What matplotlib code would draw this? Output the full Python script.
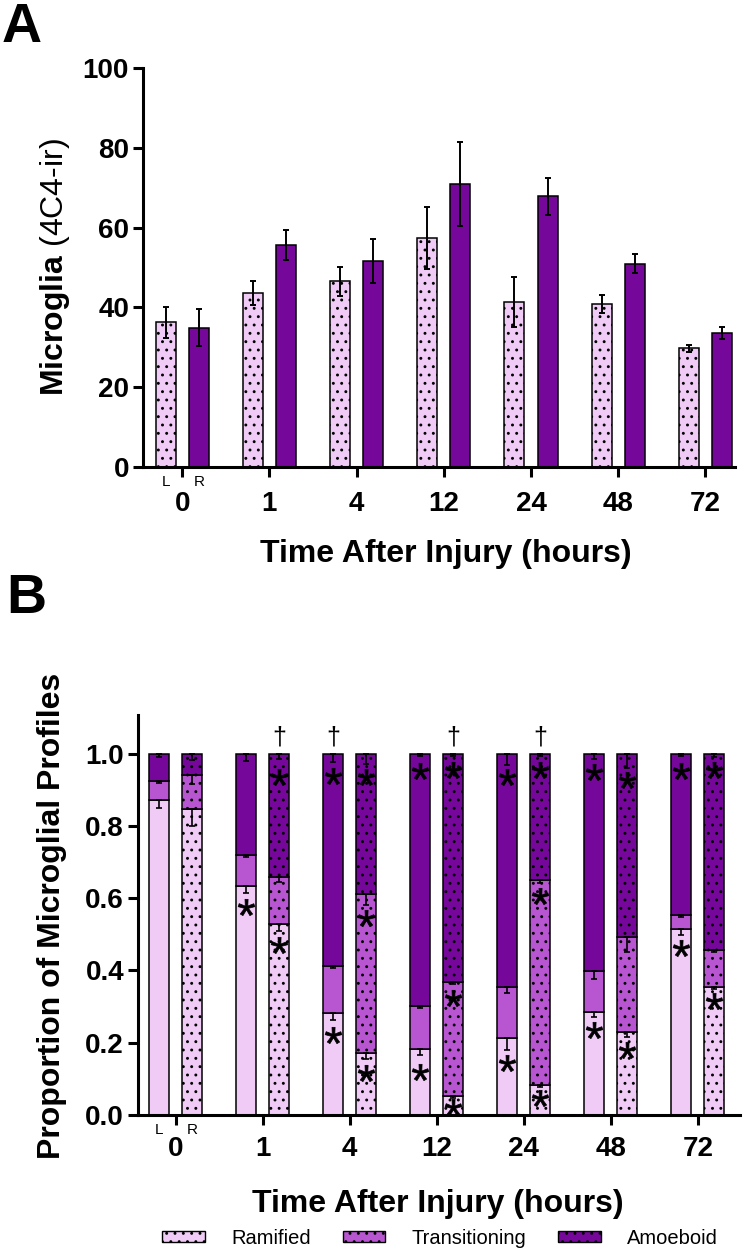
import matplotlib
matplotlib.use('Agg')
import matplotlib.pyplot as plt
from matplotlib.patches import Patch
import numpy as np

plt.rcParams['font.family'] = ['Liberation Sans', 'DejaVu Sans']
plt.rcParams['hatch.linewidth'] = 0.9
plt.rcParams['mathtext.fontset'] = 'custom'
plt.rcParams['mathtext.rm'] = 'Liberation Sans'
plt.rcParams['mathtext.bf'] = 'Liberation Sans:bold'

# ---------------- data ----------------
time_labels = ['0', '1', '4', '12', '24', '48', '72']

# Panel A: microglia counts (left = dotted light, right = solid dark)
a_left_mean = [36.3, 43.7, 46.5, 57.4, 41.4, 40.9, 29.7]
a_left_err = [3.9, 3.0, 3.7, 7.8, 6.2, 2.3, 1.0]
a_right_mean = [34.9, 55.7, 51.7, 70.9, 67.8, 51.0, 33.6]
a_right_err = [4.6, 3.8, 5.5, 10.5, 4.7, 2.5, 1.4]

# Panel B: proportions (L = solid, R = dotted)
b_ram_L = [0.871, 0.633, 0.281, 0.184, 0.212, 0.286, 0.516]
b_trans_L = [0.054, 0.086, 0.131, 0.118, 0.141, 0.113, 0.037]
b_ram_R = [0.846, 0.528, 0.171, 0.053, 0.083, 0.230, 0.355]
b_trans_R = [0.094, 0.131, 0.440, 0.316, 0.567, 0.263, 0.101]
b_amo_L = [1 - r - t for r, t in zip(b_ram_L, b_trans_L)]
b_amo_R = [1 - r - t for r, t in zip(b_ram_R, b_trans_R)]

b_ram_L_err = [0.020, 0.018, 0.018, 0.018, 0.032, 0.014, 0.018]
b_trans_L_err = [0.007, 0.006, 0.006, 0.006, 0.015, 0.024, 0.006]
b_amo_L_err = [0.009, 0.021, 0.023, 0.007, 0.032, 0.014, 0.007]
b_ram_R_err = [0.046, 0.018, 0.017, 0.006, 0.006, 0.014, 0.007]
b_trans_R_err = [0.023, 0.014, 0.030, 0.006, 0.007, 0.041, 0.006]
b_amo_R_err = [0.018, 0.014, 0.028, 0.006, 0.007, 0.041, 0.009]

# significance marks: (group index, side, y)
star_marks = [(1, 'L', 0.575), (2, 'L', 0.221), (2, 'L', 0.938), (3, 'L', 0.120),
              (3, 'L', 0.952), (4, 'L', 0.143), (4, 'L', 0.936), (5, 'L', 0.235),
              (5, 'L', 0.950), (6, 'L', 0.461), (6, 'L', 0.952),
              (1, 'R', 0.470), (1, 'R', 0.936), (2, 'R', 0.116), (2, 'R', 0.545),
              (2, 'R', 0.935), (3, 'R', 0.023), (3, 'R', 0.323), (3, 'R', 0.954),
              (4, 'R', 0.047), (4, 'R', 0.606), (4, 'R', 0.954), (5, 'R', 0.180),
              (5, 'R', 0.927), (6, 'R', 0.315), (6, 'R', 0.954)]
dagger_marks = [(1, 'R'), (2, 'L'), (3, 'R'), (4, 'R')]
dagger_y = 1.045

legend_labels = ['Ramified', 'Transitioning', 'Amoeboid']

# ---------------- style ----------------
c_light = '#EFCBF6'
c_mid = '#B856D2'
c_dark = '#75079A'
bar_w = 0.23
off = 0.19
spine_lw = 2.2
tick_fs = 20
label_fs = 23

fig = plt.figure(figsize=(7.5, 12.54), dpi=100)
W, H = 750, 1254


def ax_rect(l, r, top, bottom):
    return [l / W, 1 - bottom / H, (r - l) / W, (bottom - top) / H]


def style_axes(ax, xpad):
    for s in ['top', 'right']:
        ax.spines[s].set_visible(False)
    for s in ['left', 'bottom']:
        ax.spines[s].set_linewidth(spine_lw)
    ax.tick_params(axis='both', length=7, width=spine_lw, labelsize=tick_fs)
    ax.tick_params(axis='y', pad=3)
    ax.tick_params(axis='x', pad=xpad)
    for lab in ax.get_xticklabels() + ax.get_yticklabels():
        lab.set_fontweight('bold')


x = np.arange(len(time_labels))

# ---------------- Panel A ----------------
axA = fig.add_axes(ax_rect(143, 735, 68, 467))
axA.bar(x - off, a_left_mean, bar_w, color=c_light, edgecolor='k', lw=1.1, hatch='..', zorder=2)
axA.bar(x + off, a_right_mean, bar_w, color=c_dark, edgecolor='k', lw=1.1, zorder=2)
axA.errorbar(x - off, a_left_mean, yerr=a_left_err, fmt='none', ecolor='k', elinewidth=1.4,
             capsize=2.2, capthick=1.4, zorder=3)
axA.errorbar(x + off, a_right_mean, yerr=a_right_err, fmt='none', ecolor='k', elinewidth=1.4,
             capsize=2.2, capthick=1.4, zorder=3)
axA.set_xlim(-0.45, 6.34)
axA.set_ylim(0, 100)
axA.set_yticks([0, 20, 40, 60, 80, 100])
axA.set_xticks(x)
axA.set_xticklabels(time_labels)
style_axes(axA, 10)
for dx, t in [(-off, 'L'), (off, 'R')]:
    axA.annotate(t, xy=(dx, 0), xycoords='data', xytext=(0, -15), textcoords='offset pixels',
                 ha='center', va='center', fontsize=11)

# ---------------- Panel B ----------------
axB = fig.add_axes(ax_rect(138, 740, 715, 1115))
for side, sign, ram, trans, amo, e1, e2, e3, hatch in [
        ('L', -1, b_ram_L, b_trans_L, b_amo_L, b_ram_L_err, b_trans_L_err, b_amo_L_err, None),
        ('R', 1, b_ram_R, b_trans_R, b_amo_R, b_ram_R_err, b_trans_R_err, b_amo_R_err, '..')]:
    xp = x + sign * off
    ram = np.array(ram)
    trans = np.array(trans)
    amo = np.array(amo)
    axB.bar(xp, ram, bar_w, color=c_light, edgecolor='k', lw=1.1, hatch=hatch, zorder=2)
    axB.bar(xp, trans, bar_w, bottom=ram, color=c_mid, edgecolor='k', lw=1.1, hatch=hatch, zorder=2)
    axB.bar(xp, amo, bar_w, bottom=ram + trans, color=c_dark, edgecolor='k', lw=1.1, hatch=hatch, zorder=2)
    for top, err in [(ram, e1), (ram + trans, e2), (ram + trans + amo, e3)]:
        err = np.array(err)
        axB.errorbar(xp, top, yerr=[err, np.zeros_like(err)], fmt='none', ecolor='k',
                     elinewidth=1.2, capsize=2.2, capthick=1.2, zorder=3)

for g, side, yv in star_marks:
    xs = g + (-off if side == 'L' else off)
    axB.plot([xs], [yv], ls='none', marker='$*$', ms=12, color='k', mew=0.5, zorder=4)
for g, side in dagger_marks:
    xs = g + (-off if side == 'L' else off)
    axB.text(xs, dagger_y, '\u2020', ha='center', va='center', fontsize=18, zorder=4)

axB.set_xlim(-0.432, 6.485)
axB.set_ylim(0, 1.107)
axB.set_yticks([0, 0.2, 0.4, 0.6, 0.8, 1.0])
axB.set_yticklabels(['0.0', '0.2', '0.4', '0.6', '0.8', '1.0'])
axB.set_xticks(x)
axB.set_xticklabels(time_labels)
style_axes(axB, 8)
for dx, t in [(-off, 'L'), (off, 'R')]:
    axB.annotate(t, xy=(dx, 0), xycoords='data', xytext=(0, -15), textcoords='offset pixels',
                 ha='center', va='center', fontsize=11)

# ---------------- labels ----------------
fig.text(55 / W, 1 - 267.5 / H, r'$\mathbf{Microglia}$ (4C4-ir)', rotation=90,
         ha='center', va='center', fontsize=label_fs)
fig.text(446 / W, 1 - 554 / H, 'Time After Injury (hours)', ha='center', va='center',
         fontsize=label_fs, fontweight='bold')
fig.text(52 / W, 1 - 916 / H, 'Proportion of Microglial Profiles', rotation=90,
         ha='center', va='center', fontsize=label_fs, fontweight='bold')
fig.text(438 / W, 1 - 1204 / H, 'Time After Injury (hours)', ha='center', va='center',
         fontsize=label_fs, fontweight='bold')
fig.text(2 / W, 1 - 2 / H, 'A', ha='left', va='top', fontsize=40, fontweight='bold')
fig.text(6 / W, 1 - 573 / H, 'B', ha='left', va='top', fontsize=40, fontweight='bold')

handles = [Patch(facecolor=c, edgecolor='k', hatch='..', lw=1.0) for c in [c_light, c_mid, c_dark]]
fig.legend(handles, legend_labels, ncol=3, loc='center', bbox_to_anchor=(440 / W, 1 - 1238 / H),
           frameon=False, fontsize=14.5, handlelength=2.1, handleheight=0.45,
           handletextpad=1.3, columnspacing=1.6)

fig.savefig('out.png', dpi=100)
